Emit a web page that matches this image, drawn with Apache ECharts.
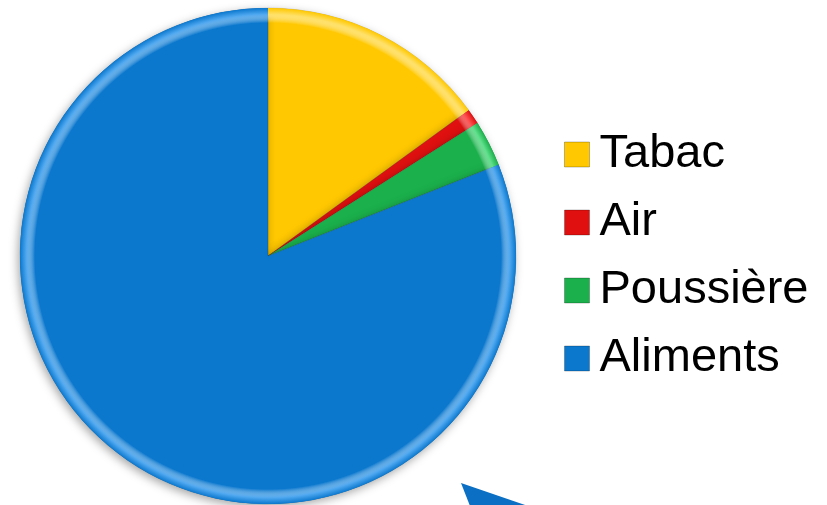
<!DOCTYPE html>
<html>
<head>
<meta charset="utf-8">
<script src="https://cdn.jsdelivr.net/npm/echarts@6/dist/echarts.min.js"></script>
<style>
  html, body { margin: 0; padding: 0; background: #ffffff; }
  #chart { width: 827px; height: 505px; }
</style>
</head>
<body>
<div id="chart"></div>
<script>
// Sources d'exposition (parts en %)
const categories = ['Tabac', 'Air', 'Poussière', 'Aliments'];
const values = [15, 1, 3, 81];
const colors = ['#FFC800', '#E01010', '#1BB04C', '#0B78CE'];
const edgeColors = ['#FFE066', '#FF5050', '#5EE08A', '#4FA8F0'];

const CX = 268, CY = 256, R = 248;

const chart = echarts.init(document.getElementById('chart'));

const pieData = categories.map((name, i) => ({
  name,
  value: values[i],
  itemStyle: { color: colors[i] }
}));

// Lighter bevel along the rim of every slice
const rimData = categories.map((name, i) => ({
  name,
  value: values[i],
  itemStyle: {
    color: {
      type: 'radial', x: CX, y: CY, r: R, global: true,
      colorStops: [
        { offset: 0.0, color: 'rgba(255,255,255,0)' },
        { offset: 0.94, color: 'rgba(255,255,255,0)' },
        { offset: 0.975, color: edgeColors[i] },
        { offset: 1.0, color: colors[i] }
      ]
    }
  }
}));

chart.setOption({
  animation: false,
  backgroundColor: '#ffffff',
  legend: {
    orient: 'vertical',
    left: 559,
    top: 126,
    itemWidth: 25,
    itemHeight: 25,
    itemGap: 21,
    icon: 'rect',
    itemStyle: { borderColor: 'rgba(0,0,0,0.25)', borderWidth: 1 },
    textStyle: {
      fontFamily: 'Liberation Sans, Arial, sans-serif',
      fontSize: 47,
      lineHeight: 47,
      color: '#000000',
      padding: [0, 0, 0, 5]
    },
    data: categories
  },
  series: [
    {
      type: 'pie',
      center: [CX, CY],
      radius: [0, R],
      startAngle: 90,
      clockwise: true,
      label: { show: false },
      labelLine: { show: false },
      emphasis: { disabled: true },
      itemStyle: {
        borderColor: 'rgba(0,0,0,0.12)',
        borderWidth: 1,
        shadowBlur: 10,
        shadowOffsetX: -2,
        shadowOffsetY: 3,
        shadowColor: 'rgba(0,0,0,0.35)'
      },
      data: pieData
    },
    {
      type: 'pie',
      center: [CX, CY],
      radius: [0, R],
      startAngle: 90,
      clockwise: true,
      silent: true,
      legendHoverLink: false,
      label: { show: false },
      labelLine: { show: false },
      emphasis: { disabled: true },
      data: rimData
    }
  ],
  graphic: [
    {
      type: 'polygon',
      shape: { points: [[461, 483], [528, 506], [470, 506]] },
      style: { fill: '#0B6FC4' }
    }
  ]
});
</script>
</body>
</html>
